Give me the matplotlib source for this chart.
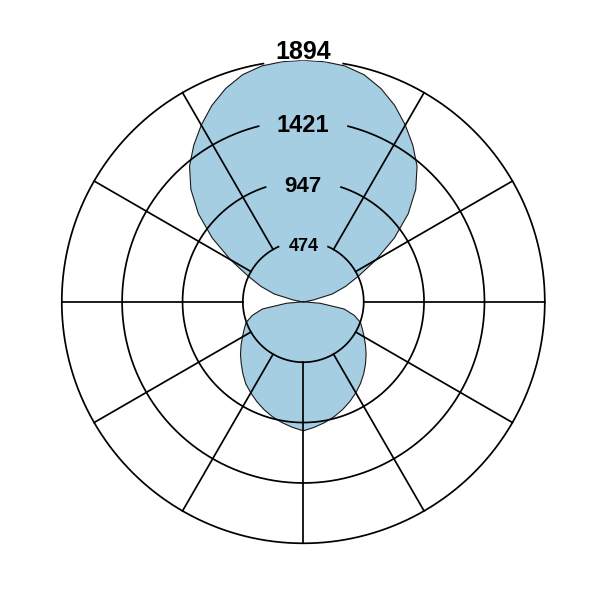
import numpy as np
import matplotlib
matplotlib.use("Agg")
import matplotlib.pyplot as plt

# Data (angle in degrees clockwise from top, radial value)
angles_deg = list(range(0, 360, 5))
values = [
    1894, 1890, 1878, 1843, 1780, 1698, 1600, 1498, 1388, 1247,   # 0-45
    1074, 871, 659, 478, 353, 235, 78, 16, 0,                      # 50-90
    133, 326, 415, 478, 512, 551, 596, 643, 690, 737,              # 95-140
    782, 824, 863, 900, 933, 962, 988, 1012,                       # 145-180
    988, 962, 933, 900, 863, 824, 786, 737, 688, 643,              # 185-230
    596, 551, 512, 478, 415, 326, 133, 0,                          # 235-270
    16, 78, 235, 353, 478, 659, 871, 1074, 1247, 1388,             # 275-320
    1498, 1600, 1698, 1780, 1843, 1878, 1890,                      # 325-355
]
tick_values = [474, 947, 1421, 1894]
tick_labels = ["474", "947", "1421", "1894"]
r_max = 1894
spoke_deg = [30, 60, 90, 120, 150, 180, 210, 240, 270, 300, 330]

# label layout (style only)
label_r = [398, 859, 1329, 1902]
label_size = [13, 16, 17, 18]
gap_half_deg = [23.4, 17.8, 14.0, 9.3]

fig = plt.figure(figsize=(6.01, 6.01), dpi=100)
fig.patch.set_facecolor("white")
ax = fig.add_axes([0.1028, 0.0960, 0.8037, 0.8037], projection="polar")
ax.set_theta_zero_location("N")
ax.set_theta_direction(-1)
ax.set_ylim(0, r_max)
ax.axis("off")

th = np.deg2rad(angles_deg + [angles_deg[0] + 360])
rv = values + [values[0]]
ax.fill(th, rv, facecolor="#a6cee3", edgecolor="#1a1a1a", linewidth=0.8, zorder=1,
        joinstyle="round")

lw = 1.25
for v, g in zip(tick_values, gap_half_deg):
    t = np.linspace(np.deg2rad(g), np.deg2rad(360 - g), 600)
    ax.plot(t, np.full_like(t, v), color="black", lw=lw, clip_on=False, zorder=2,
            solid_capstyle="butt")

for d in spoke_deg:
    a = np.deg2rad(d)
    ax.plot([a, a], [tick_values[0], r_max], color="black", lw=lw, clip_on=False, zorder=2)

for lab, r, fs in zip(tick_labels, label_r, label_size):
    ax.text(0, r, lab, ha="center", va="baseline", fontsize=fs, fontweight="bold",
            family="Liberation Sans", color="black", clip_on=False, zorder=3)

fig.savefig("out.png", dpi=100, facecolor="white")
